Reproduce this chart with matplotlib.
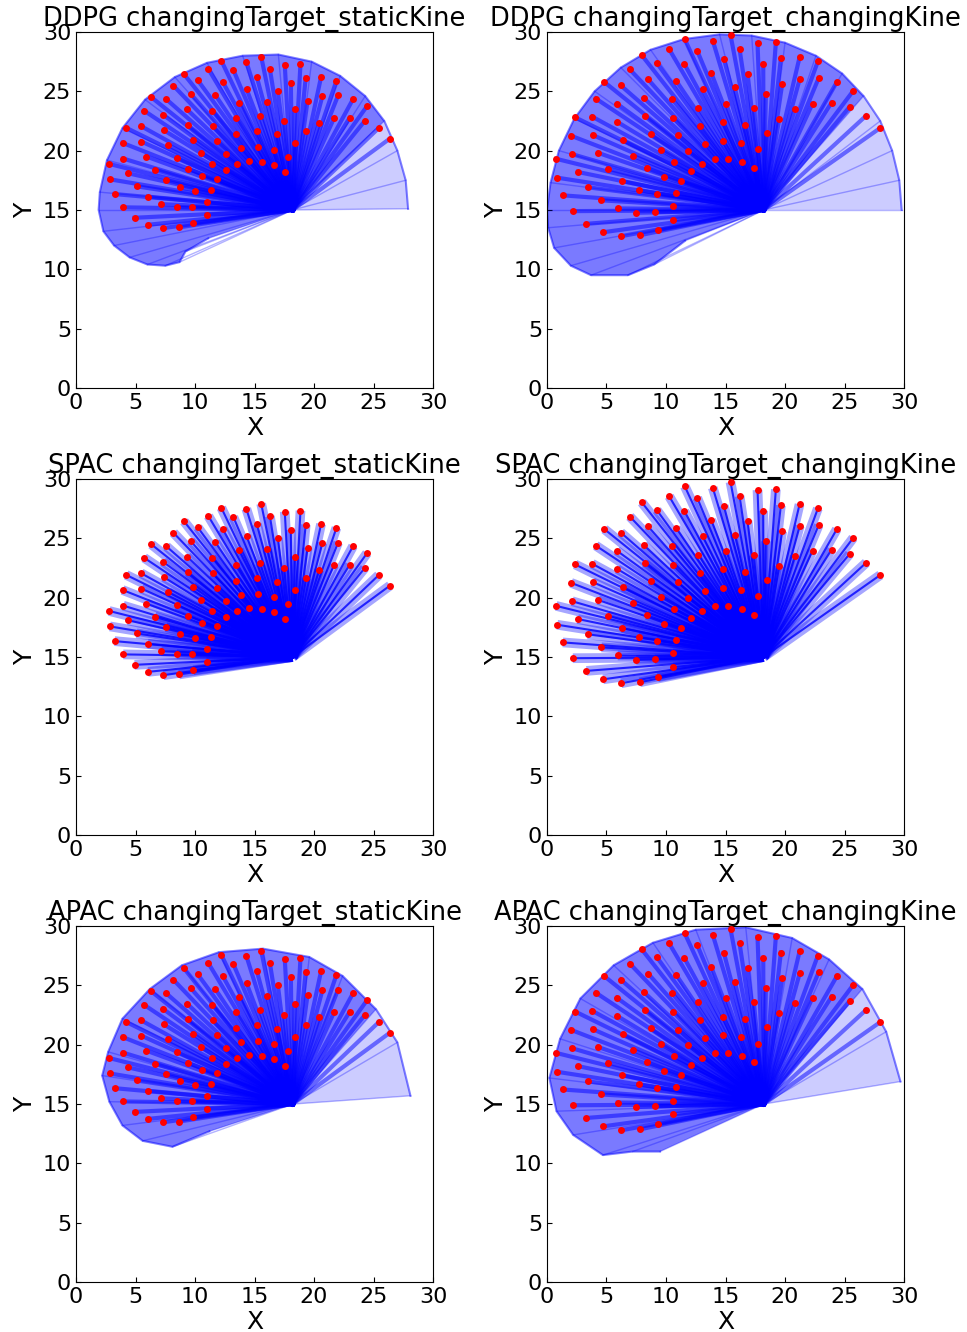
import matplotlib.pyplot as plt

# arm base, every trajectory starts here
base_x, base_y = 18.2, 15.0

# target points for the staticKine runs (left column)
static_x = [15.56, 12.21, 14.31, 11.12, 13.22, 9.08, 15.20, 10.23, 12.32, 8.19,
            14.33, 9.64, 11.71, 6.34, 7.60, 13.69, 5.73, 9.33, 11.43, 7.32,
            15.45, 13.41, 4.22, 5.47, 9.41, 11.51, 7.38, 15.20, 13.47, 3.91,
            5.50, 9.81, 11.87, 7.77, 15.26, 13.86, 3.97, 5.92, 10.50, 12.57,
            8.47, 15.62, 14.56, 2.79, 11.46, 13.52, 9.41, 6.62, 12.63, 4.38,
            2.85, 10.59, 11.84, 7.57, 5.09, 8.72, 10.00, 11.32, 3.24, 6.04,
            11.01, 7.18, 8.47, 9.75, 3.97, 10.98, 4.92, 9.86, 6.06, 8.66,
            7.35, 17.54, 18.86, 16.29, 19.30, 20.59, 18.05, 21.88, 16.96, 20.70,
            22.02, 19.45, 23.28, 16.07, 24.45, 18.38, 17.49, 20.43, 21.68, 22.99,
            24.25, 25.42, 26.38, 16.87, 19.34, 18.44, 16.60, 17.85, 16.65, 17.57]
static_y = [27.92, 27.58, 27.50, 26.88, 26.80, 26.43, 26.18, 25.93, 25.81, 25.47,
            25.19, 24.77, 24.68, 24.49, 24.32, 24.03, 23.36, 23.47, 23.38, 23.02,
            22.91, 22.76, 21.92, 22.06, 22.15, 22.06, 21.72, 21.64, 21.44, 20.65,
            20.76, 20.93, 20.82, 20.46, 20.31, 20.20, 19.33, 19.50, 19.81, 19.72,
            19.36, 19.07, 19.10, 18.88, 18.91, 18.85, 18.48, 18.39, 18.34, 18.09,
            17.58, 17.89, 17.61, 17.52, 16.99, 16.91, 16.63, 16.70, 16.34, 16.12,
            15.66, 15.49, 15.24, 15.27, 15.22, 14.60, 14.34, 13.89, 13.75, 13.53,
            13.47, 27.25, 27.33, 26.86, 26.15, 26.21, 25.72, 25.89, 25.02, 24.60,
            24.65, 24.18, 24.35, 24.07, 23.75, 23.47, 22.51, 22.34, 22.74, 22.77,
            22.49, 21.89, 21.02, 21.36, 21.64, 20.68, 20.09, 19.50, 18.77, 18.23]

# target points for the changingKine runs (right column)
changing_x = [11.58, 13.93, 10.27, 12.62, 7.97, 9.23, 11.55, 14.86, 6.96, 13.80,
              4.83, 6.20, 8.50, 10.86, 13.07, 4.10, 5.87, 8.13, 10.49, 12.73,
              2.37, 3.80, 5.92, 8.22, 10.57, 12.82, 14.77, 2.03, 3.85, 6.40,
              8.70, 11.03, 13.29, 14.77, 0.77, 2.12, 4.30, 7.24, 9.54, 11.87,
              14.10, 13.04, 10.69, 8.39, 5.11, 2.59, 0.86, 9.79, 12.06, 11.30,
              6.32, 3.43, 7.69, 9.23, 10.80, 1.33, 4.58, 10.57, 5.95, 7.50,
              9.06, 2.17, 10.61, 3.32, 9.31, 4.72, 6.24, 7.80, 15.42, 17.69,
              19.23, 16.18, 19.65, 21.22, 22.76, 18.17, 16.85, 21.24, 22.82, 24.35,
              19.76, 25.73, 15.78, 18.39, 15.06, 17.38, 20.82, 22.31, 23.91, 25.42,
              26.82, 28.00, 16.66, 19.51, 18.45, 16.32, 17.71, 15.25, 16.37, 17.41]
changing_y = [29.38, 29.27, 28.54, 28.42, 28.03, 27.38, 27.29, 27.75, 26.84, 26.56,
              25.77, 25.49, 26.00, 25.88, 25.18, 24.39, 23.96, 24.44, 24.36, 23.62,
              22.80, 22.86, 22.41, 22.89, 22.78, 22.07, 22.38, 21.25, 21.31, 20.89,
              21.40, 21.28, 20.58, 20.83, 19.31, 19.70, 19.81, 19.56, 20.07, 19.96,
              19.28, 18.91, 19.03, 18.52, 18.48, 18.20, 17.72, 17.78, 18.29, 17.44,
              17.42, 16.91, 16.68, 16.37, 16.43, 16.23, 15.81, 15.30, 15.13, 14.76,
              14.82, 14.90, 14.14, 13.83, 13.29, 13.12, 12.79, 12.87, 29.75, 29.07,
              29.13, 28.56, 27.77, 27.86, 27.52, 27.32, 26.48, 26.05, 26.10, 25.77,
              25.60, 25.04, 25.32, 24.75, 23.94, 23.57, 23.48, 23.96, 24.05, 23.68,
              22.95, 21.91, 22.16, 22.64, 21.48, 20.64, 20.10, 19.33, 19.08, 18.57]

# outer edge of the area the trajectories sweep
ddpg_static_env_x = [27.9, 27.7, 27.0, 25.9, 24.3, 22.2, 19.8, 17.0, 14.0, 11.0, 8.3,
                     5.8, 3.9, 2.6, 2.0, 1.9, 2.3, 3.2, 4.5, 6.0, 7.5, 8.7, 9.2, 11.1]
ddpg_static_env_y = [15.1, 17.5, 20.0, 22.5, 24.6, 26.3, 27.5, 28.1, 28.0, 27.4, 26.2,
                     24.3, 21.9, 19.2, 16.5, 15.0, 13.2, 12.0, 11.0, 10.4, 10.3, 10.6, 11.5, 12.6]
ddpg_changing_env_x = [29.8, 29.6, 29.0, 28.0, 26.6, 24.8, 22.6, 20.0, 17.2, 14.5, 11.5, 8.7,
                       6.2, 4.0, 2.3, 1.0, 0.3, 0.0, 0.1, 0.6, 2.0, 3.7, 6.8, 9.0, 11.6]
ddpg_changing_env_y = [15.0, 17.5, 20.0, 22.5, 24.6, 26.5, 28.0, 29.1, 29.7, 29.8, 29.4, 28.5,
                       27.0, 25.0, 22.7, 20.0, 17.3, 15.0, 13.5, 11.8, 10.3, 9.5, 9.5, 10.4, 12.4]
apac_static_env_x = [28.1, 27.0, 25.2, 22.4, 19.6, 15.7, 12.0, 8.9, 6.2, 3.9, 2.7,
                     2.2, 2.8, 3.9, 5.6, 8.1, 11.2]
apac_static_env_y = [15.7, 20.2, 23.0, 25.8, 27.4, 28.1, 27.8, 26.7, 24.7, 22.2, 19.4,
                     17.4, 15.2, 13.2, 11.9, 11.4, 12.7]
apac_changing_env_x = [29.7, 28.5, 26.5, 23.7, 20.6, 16.7, 12.5, 8.9, 5.6, 2.8, 1.1,
                       0.2, 0.8, 2.2, 4.7, 7.2, 9.5]
apac_changing_env_y = [16.9, 21.1, 24.7, 27.2, 29.0, 29.9, 29.7, 28.6, 26.7, 23.9, 20.5,
                       17.2, 14.4, 12.4, 10.7, 11.0, 11.0]

# number of outline points on the right that only get a few stray trajectories
ddpg_static_sparse = 3
ddpg_changing_sparse = 4
apac_static_sparse = 2
apac_changing_sparse = 2

titles = ["DDPG changingTarget_staticKine", "DDPG changingTarget_changingKine",
          "SPAC changingTarget_staticKine", "SPAC changingTarget_changingKine",
          "APAC changingTarget_staticKine", "APAC changingTarget_changingKine"]

panels = [
    (static_x, static_y, ddpg_static_env_x, ddpg_static_env_y, ddpg_static_sparse),
    (changing_x, changing_y, ddpg_changing_env_x, ddpg_changing_env_y, ddpg_changing_sparse),
    (static_x, static_y, None, None, 0),
    (changing_x, changing_y, None, None, 0),
    (static_x, static_y, apac_static_env_x, apac_static_env_y, apac_static_sparse),
    (changing_x, changing_y, apac_changing_env_x, apac_changing_env_y, apac_changing_sparse),
]

fig, axes = plt.subplots(3, 2, figsize=(9.67, 13.32), dpi=100)
fig.subplots_adjust(left=0.0786, right=0.9349, bottom=0.0375, top=0.976,
                    wspace=0.319, hspace=0.256)

for ax, title, (tx, ty, ex, ey, ns) in zip(axes.flat, titles, panels):
    if ex is not None:
        # spread of the learned trajectories: light over the whole area,
        # darker where most of them go
        ax.fill([base_x] + ex, [base_y] + ey, color="b", alpha=0.2, lw=0)
        ax.fill([base_x] + ex[ns:], [base_y] + ey[ns:], color="b", alpha=0.4, lw=0)
        ax.plot(ex, ey, color="b", alpha=0.5, lw=1.5)
        for x, y in zip(ex, ey):
            ax.plot([base_x, x], [base_y, y], color="b", alpha=0.3, lw=1)
        for x, y in zip(tx, ty):
            ax.plot([base_x, x], [base_y, y], color="b", alpha=0.5, lw=3)
    else:
        # SPAC runs go almost straight to the target
        for x, y in zip(tx, ty):
            ax.plot([base_x, x], [base_y, y], color="b", alpha=0.35, lw=7,
                    solid_capstyle="butt")
            ax.plot([base_x, x], [base_y, y], color="b", alpha=0.8, lw=1.5)

    ax.plot(tx, ty, "o", color="r", ms=5, mec="none", zorder=5)

    ax.set_xlim(0, 30)
    ax.set_ylim(0, 30)
    ax.set_xticks(range(0, 31, 5))
    ax.set_yticks(range(0, 31, 5))
    ax.tick_params(direction="in", labelsize=16)
    ax.set_title(title, fontsize=18.5, pad=3)
    ax.set_xlabel("X", fontsize=18, labelpad=2)
    ax.set_ylabel("Y", fontsize=18)

fig.savefig("out.png", dpi=100)
